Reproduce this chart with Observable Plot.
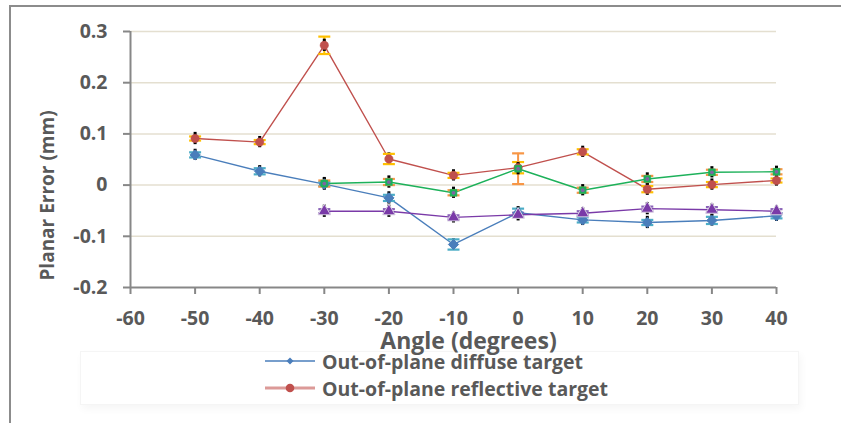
<!DOCTYPE html>
<html>
<head>
<meta charset="utf-8">
<script src="https://cdn.jsdelivr.net/npm/d3@7"></script>
<script src="https://cdn.jsdelivr.net/npm/@observablehq/plot@0.6"></script>
<style>
  html, body { margin: 0; padding: 0; background: #fff; }
  body { width: 841px; height: 423px; position: relative; overflow: hidden; font-family: "Open Sans", sans-serif; }
  #frame { position: absolute; left: 9px; top: 5px; right: 0; bottom: 0; border-top: 2px solid #8c8c8c; border-left: 2px solid #8c8c8c; }
  #legendBox { position: absolute; left: 80px; top: 351px; width: 717px; height: 52px; background: #fff;
    border: 1px solid #f5f5f5; box-shadow: 2px 4px 8px rgba(0,0,0,0.04); }
  #chart { position: absolute; left: 0; top: 0; z-index: 2; }
  .entry { position: absolute; left: 265px; height: 24px; display: flex; align-items: center; z-index: 3;
    font-weight: bold; font-size: 19.5px; color: #595959; white-space: nowrap; }
  .entry svg { margin-right: 7px; }
</style>
</head>
<body>
<div id="frame"></div>
<div id="legendBox"></div>
<div id="chart"></div>
<div id="legend"></div>
<script>
// Angle of the target (degrees)
const angles = [-50, -40, -30, -20, -10, 0, 10, 20, 30, 40];

// Planar error (mm) for each series; null where no measurement was taken
const diffuse    = [0.059, 0.027, 0.002, -0.025, -0.116, -0.054, -0.068, -0.073, -0.069, -0.060];
const reflective = [0.091, 0.084, 0.273, 0.051, 0.019, 0.034, 0.065, -0.008, 0.001, 0.009];
const series3    = [null, null, 0.003, 0.006, -0.015, 0.032, -0.010, 0.012, 0.025, 0.026];
const series4    = [null, null, -0.051, -0.051, -0.063, -0.058, -0.055, -0.046, -0.048, -0.051];

// Coloured error bars (± mm)
const diffuseErr    = [0.005, 0.006, 0.004, 0.006, 0.010, 0.008, 0.005, 0.005, 0.007, 0.005];
const reflectiveErr = [0.004, 0.004, 0.017, 0.010, 0.005, 0.011, 0.005, 0.006, 0.005, 0.004];
const series3Err    = [null, null, 0.006, 0.006, 0.005, 0.030, 0.005, 0.006, 0.005, 0.005];
const series4Err    = [null, null, 0.004, 0.004, 0.004, 0.004, 0.004, 0.004, 0.005, 0.004];

// Black error bars (± mm)
const diffuseSpread    = [0.011, 0.011, 0.012, 0.012, 0.011, 0.012, 0.011, 0.012, 0.011, 0.011];
const reflectiveSpread = [0.012, 0.011, 0.012, 0.012, 0.011, 0.012, 0.011, 0.012, 0.011, 0.011];
const series3Spread    = [null, null, 0.012, 0.012, 0.011, 0.012, 0.011, 0.012, 0.011, 0.011];
const series4Spread    = [null, null, 0.012, 0.012, 0.011, 0.012, 0.011, 0.012, 0.011, 0.011];

const seriesNames = ["Out-of-plane diffuse target", "Out-of-plane reflective target", "Series 3", "Series 4"];
const lineColors  = ["#4a7ebb", "#c0504d", "#1db15a", "#7a3aa8"];
const capColors   = ["#4bacc6", "#ffc000", "#f79646", "#8a63b8"];

const xTicks = [-60, -50, -40, -30, -20, -10, 0, 10, 20, 30, 40];
const yTicks = [-0.2, -0.1, 0, 0.1, 0.2, 0.3];
const xTitle = "Angle (degrees)";
const yTitle = "Planar Error (mm)";

const valueSets  = [diffuse, reflective, series3, series4];
const errSets    = [diffuseErr, reflectiveErr, series3Err, series4Err];
const spreadSets = [diffuseSpread, reflectiveSpread, series3Spread, series4Spread];

// Long-format table, one row per measured point
const series = seriesNames.map((name, i) => ({
  name, line: lineColors[i], cap: capColors[i],
  rows: angles.map((a, j) => ({angle: a, value: valueSets[i][j], err: errSets[i][j], spread: spreadSets[i][j]}))
              .filter(d => d.value != null)
}));

// Horizontal cap drawn as a dot symbol
const capSymbol = {
  draw(ctx, size) {
    const w = Math.sqrt(size / Math.PI);
    ctx.moveTo(-w, 0);
    ctx.lineTo(w, 0);
  }
};

const gridColor = "#e4dfd0";
const axisColor = "#878787";
const textColor = "#595959";

const marks = [
  Plot.ruleY(yTicks.filter(v => v > -0.2), {y: d => d, stroke: gridColor, strokeWidth: 1.5}),
  Plot.ruleX([-60], {x: d => d, stroke: axisColor, strokeWidth: 2}),
  Plot.ruleY([-0.2], {y: d => d, stroke: axisColor, strokeWidth: 2}),
  Plot.axisX({ticks: xTicks, tickSize: 7, tickPadding: 17, tickFormat: d => String(d), fontSize: 19.5,
    stroke: axisColor, strokeWidth: 2, fill: textColor, label: null}),
  Plot.axisY({ticks: yTicks, tickSize: 7, tickPadding: 16, tickFormat: d => d === 0 ? "0" : d.toFixed(1),
    fontSize: 19.5, stroke: axisColor, strokeWidth: 2, fill: textColor, label: null}),
  Plot.text([xTitle], {text: d => d, frameAnchor: "bottom", lineAnchor: "middle", textAnchor: "middle",
    dx: 15, dy: 54, fontSize: 23, fill: textColor}),
  Plot.text([yTitle], {text: d => d, frameAnchor: "left", lineAnchor: "middle", textAnchor: "middle",
    rotate: -90, dx: -83, dy: 36, fontSize: 19, fill: textColor})
];

// Connecting lines
series.forEach(s => {
  marks.push(Plot.line(s.rows, {x: "angle", y: "value", stroke: s.line, strokeWidth: 1.4}));
});

// Error bars
series.forEach(s => {
  marks.push(Plot.ruleX(s.rows, {x: "angle", y1: d => d.value - d.err, y2: d => d.value + d.err, stroke: s.cap, strokeWidth: 2}));
  marks.push(Plot.ruleX(s.rows, {x: "angle", y1: d => d.value - d.spread, y2: d => d.value + d.spread, stroke: "#000", strokeWidth: 3}));
  marks.push(Plot.dot(s.rows, {x: "angle", y: d => d.value + d.err, symbol: capSymbol, r: 6, stroke: s.cap, strokeWidth: 2.2, fill: "none"}));
  marks.push(Plot.dot(s.rows, {x: "angle", y: d => d.value - d.err, symbol: capSymbol, r: 6, stroke: s.cap, strokeWidth: 2.2, fill: "none"}));
});

// Markers
marks.push(Plot.dot(series[0].rows, {x: "angle", y: "value", symbol: "diamond2", r: 4.6, fill: lineColors[0], stroke: lineColors[0], strokeWidth: 1}));
marks.push(Plot.dot(series[1].rows, {x: "angle", y: "value", symbol: "circle", r: 4.2, fill: lineColors[1], stroke: lineColors[1], strokeWidth: 0.5}));
marks.push(Plot.dot(series[2].rows, {x: "angle", y: "value", symbol: "square", r: 3.9, fill: lineColors[2], stroke: lineColors[2], strokeWidth: 0.5}));
marks.push(Plot.dot(series[2].rows, {x: "angle", y: "value", symbol: "circle", r: 1.9, fill: "#8064a2"}));
marks.push(Plot.dot(series[3].rows, {x: "angle", y: "value", symbol: "triangle", r: 4.6, fill: lineColors[3], stroke: "#d8d0e2", strokeWidth: 1}));

const chart = Plot.plot({
  width: 841,
  height: 355,
  marginLeft: 130,
  marginRight: 65,
  marginTop: 31,
  marginBottom: 68,
  x: {domain: [-60, 40]},
  y: {domain: [-0.2, 0.3]},
  style: {background: "transparent", fontFamily: "'Open Sans', sans-serif", fontWeight: "bold", color: textColor},
  marks
});
document.getElementById("chart").appendChild(chart);

// Legend (first two series)
const legend = document.getElementById("legend");
const legendRows = [
  {name: seriesNames[0], color: lineColors[0], lineWidth: 1.5, marker: "diamond", top: 349},
  {name: seriesNames[1], color: lineColors[1], lineWidth: 3, lineColor: "#dc9a98", marker: "circle", top: 376}
];
legendRows.forEach(r => {
  const div = document.createElement("div");
  div.className = "entry";
  div.style.top = r.top + "px";
  const mk = r.marker === "diamond"
    ? `<path d="M25,8.5 L28.5,12 L25,15.5 L21.5,12 Z" fill="${r.color}"/>`
    : `<circle cx="25" cy="12" r="4.3" fill="${r.color}"/>`;
  div.innerHTML = `<svg width="50" height="24"><line x1="0" x2="50" y1="12" y2="12" stroke="${r.lineColor || r.color}" stroke-width="${r.lineWidth}"/>${mk}</svg><span>${r.name}</span>`;
  legend.appendChild(div);
});
</script>
</body>
</html>
